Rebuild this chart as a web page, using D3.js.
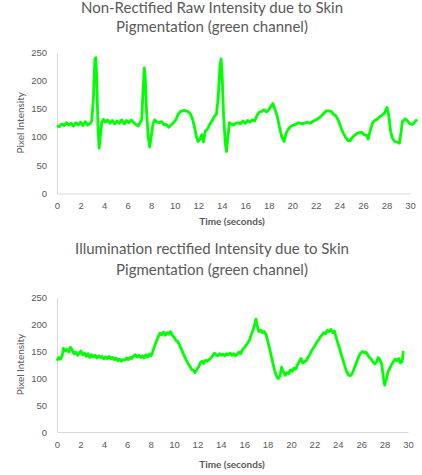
<!DOCTYPE html>
<html>
<head>
<meta charset="utf-8">
<script src="https://cdn.jsdelivr.net/npm/d3@7"></script>
<style>
  body { margin: 0; background: #fff; }
  svg { display: block; font-family: Lato, "Open Sans", sans-serif; }
  .tick text { fill: #595959; font-size: 9.5px; }
  .domain { stroke: #d9d9d9; }
  .title { fill: #595959; font-size: 15px; }
  .axis-title { fill: #595959; font-size: 10px; }
</style>
</head>
<body>
<svg id="chart" width="422" height="475"></svg>
<script>
const xTicks = [0, 2, 4, 6, 8, 10, 12, 14, 16, 18, 20, 22, 24, 26, 28, 30];
const yTicks = [0, 50, 100, 150, 200, 250];

// raw signal (top panel)
const rawTime = [
  0.0, 0.2, 0.4, 0.6, 0.8, 1.0, 1.2, 1.4, 1.6, 1.8, 2.0, 2.2, 2.4, 2.6, 2.8, 2.95,
  3.1, 3.22, 3.3, 3.38, 3.48, 3.58, 3.68, 3.8, 3.95, 4.1, 4.3, 4.5, 4.7, 4.9, 5.1,
  5.3, 5.5, 5.7, 5.9, 6.1, 6.3, 6.5, 6.7, 6.9, 7.05, 7.2, 7.3, 7.42, 7.5, 7.6, 7.75,
  7.88, 8.0, 8.15, 8.3, 8.5, 8.7, 8.9, 9.1, 9.3, 9.5, 9.7, 9.9, 10.1, 10.3, 10.5,
  10.8, 11.1, 11.3, 11.5, 11.7, 11.85, 12.0, 12.15, 12.3, 12.45, 12.6, 12.8, 13.0,
  13.2, 13.4, 13.55, 13.7, 13.85, 13.95, 14.05, 14.15, 14.3, 14.4, 14.5, 14.65, 14.8,
  15.0, 15.2, 15.4, 15.6, 15.8, 16.0, 16.2, 16.4, 16.6, 16.8, 17.0, 17.2, 17.4, 17.6,
  17.8, 18.0, 18.2, 18.35, 18.5, 18.7, 18.9, 19.1, 19.3, 19.5, 19.7, 19.9, 20.1, 20.3,
  20.5, 20.7, 20.9, 21.1, 21.3, 21.5, 21.7, 21.9, 22.1, 22.3, 22.5, 22.7, 22.9, 23.1,
  23.3, 23.5, 23.7, 23.9, 24.1, 24.3, 24.5, 24.7, 24.9, 25.1, 25.3, 25.6, 25.9, 26.1,
  26.3, 26.45, 26.6, 26.8, 27.0, 27.2, 27.4, 27.6, 27.8, 27.95, 28.05, 28.2, 28.35,
  28.5, 28.7, 28.9, 29.1, 29.25, 29.35, 29.6, 29.8, 30.0, 30.2, 30.4, 30.6
];
const rawValue = [
  120, 118, 123, 120, 125, 121, 124, 119, 125, 121, 126, 120, 127, 121, 123, 128,
  170, 238, 240, 200, 120, 80, 100, 125, 131, 126, 130, 124, 129, 123, 128,
  124, 130, 123, 129, 125, 130, 126, 122, 119, 125, 130, 175, 222, 205, 150, 100,
  82, 100, 122, 130, 126, 125, 127, 121, 122, 117, 121, 125, 130, 140, 145,
  147, 145, 142, 133, 116, 100, 92, 96, 104, 91, 110, 114, 123,
  129, 137, 140, 170, 225, 238, 200, 140, 90, 74, 95, 125, 123,
  121, 124, 125, 123, 128, 124, 129, 126, 130, 128, 138, 144, 145, 148,
  144, 148, 155, 159, 150, 138, 118, 100, 92, 108, 115, 119, 121, 122,
  125, 124, 123, 125, 126, 124, 127, 129, 131, 134, 138, 142, 146, 146,
  145, 140, 137, 130, 118, 108, 100, 94, 93, 99, 103, 107, 108, 104,
  103, 96, 110, 124, 129, 131, 135, 138, 141, 148, 152, 137, 110,
  98, 92, 91, 89, 110, 127, 132, 128, 123, 122, 126, 131
];

// illumination rectified signal (bottom panel)
const rectTime = [
  0.0, 0.15, 0.3, 0.45, 0.55, 0.7, 0.85, 1.0, 1.15, 1.3, 1.45, 1.6, 1.75, 1.9, 2.05,
  2.2, 2.35, 2.5, 2.65, 2.8, 2.95, 3.1, 3.25, 3.4, 3.55, 3.7, 3.85, 4.0, 4.15, 4.3,
  4.45, 4.6, 4.75, 4.9, 5.05, 5.2, 5.35, 5.5, 5.65, 5.8, 5.95, 6.1, 6.25, 6.4, 6.55,
  6.7, 6.85, 7.0, 7.15, 7.3, 7.45, 7.6, 7.75, 7.9, 8.05, 8.2, 8.35, 8.5, 8.65, 8.8,
  8.95, 9.1, 9.25, 9.4, 9.55, 9.7, 9.85, 10.0, 10.15, 10.3, 10.45, 10.6, 10.75, 10.9,
  11.05, 11.2, 11.35, 11.5, 11.65, 11.8, 11.95, 12.1, 12.25, 12.4, 12.55, 12.7, 12.85,
  13.0, 13.15, 13.3, 13.45, 13.6, 13.75, 13.9, 14.05, 14.2, 14.35, 14.5, 14.65, 14.8,
  14.95, 15.1, 15.25, 15.4, 15.55, 15.7, 15.85, 16.0, 16.15, 16.3, 16.45, 16.6, 16.75,
  16.9, 17.0, 17.1, 17.25, 17.4, 17.55, 17.7, 17.85, 18.0, 18.15, 18.3, 18.45, 18.6,
  18.75, 18.9, 19.05, 19.2, 19.35, 19.5, 19.65, 19.8, 19.95, 20.1, 20.25, 20.4, 20.55,
  20.7, 20.85, 21.0, 21.15, 21.3, 21.45, 21.6, 21.75, 21.9, 22.05, 22.2, 22.35, 22.5,
  22.65, 22.8, 22.95, 23.1, 23.25, 23.4, 23.55, 23.7, 23.85, 24.0, 24.15, 24.3, 24.45,
  24.6, 24.75, 24.9, 25.05, 25.2, 25.35, 25.5, 25.65, 25.8, 25.95, 26.1, 26.25, 26.4,
  26.55, 26.7, 26.85, 27.0, 27.15, 27.3, 27.45, 27.6, 27.75, 27.9, 28.0, 28.15, 28.3,
  28.45, 28.6, 28.75, 28.9, 29.05, 29.2, 29.35, 29.5, 29.6
];
const rectValue = [
  132, 138, 135, 142, 155, 150, 153, 148, 157, 152, 145, 148, 142, 146, 150,
  143, 146, 140, 145, 138, 143, 139, 142, 137, 141, 138, 140, 135, 139, 136,
  140, 136, 138, 134, 137, 132, 135, 131, 134, 133, 137, 134, 138, 136, 141,
  143, 139, 142, 138, 141, 137, 143, 139, 144, 141, 150, 160, 168, 176, 183,
  180, 185, 179, 184, 181, 186, 179, 176, 170, 168, 162, 155, 147, 140,
  133, 127, 122, 116, 114, 110, 116, 120, 128, 131, 127, 133, 131,
  134, 137, 141, 146, 143, 141, 145, 142, 144, 141, 145, 143, 146,
  142, 145, 141, 144, 148, 145, 152, 156, 160, 165, 170, 180, 188,
  200, 209, 198, 186, 189, 184, 186, 181, 170, 156, 142, 128, 114,
  104, 99, 103, 120, 112, 105, 110, 108, 115, 112, 118, 116, 124,
  130, 136, 128, 130, 132, 138, 143, 150, 155, 160, 166, 170, 176,
  180, 184, 182, 188, 186, 190, 184, 187, 176, 165, 155, 143, 133,
  122, 112, 106, 104, 107, 114, 123, 132, 140, 146, 149, 147, 148,
  143, 138, 135, 130, 126, 129, 138, 134, 126, 100, 87, 98, 112,
  118, 125, 130, 135, 132, 136, 128, 131, 150
];

const svg = d3.select("#chart");

function drawPanel(p) {
  const x = d3.scaleLinear().domain([0, 30]).range([57, p.right]);
  const y = d3.scaleLinear().domain([0, 250]).range([p.bottom, p.top]);

  const g = svg.append("g");

  p.titles.forEach((t, i) => {
    g.append("text")
      .attr("class", "title")
      .attr("x", 212)
      .attr("y", p.titleY[i])
      .attr("text-anchor", "middle")
      .text(t);
  });

  g.append("g")
    .attr("transform", `translate(0, ${p.bottom})`)
    .call(d3.axisBottom(x).tickValues(xTicks).tickSize(0).tickPadding(9))
    .call((a) => a.select(".domain").attr("stroke", "#d9d9d9"));

  g.append("g")
    .attr("transform", "translate(57, 0)")
    .call(d3.axisLeft(y).tickValues(yTicks).tickSize(0).tickPadding(10))
    .call((a) => a.select(".domain").attr("stroke", "#d9d9d9"));

  const pts = p.time.map((t, i) => [t, p.value[i]]);
  g.append("path")
    .datum(pts)
    .attr("fill", "none")
    .attr("stroke", "#00ff00")
    .attr("stroke-width", 2.8)
    .attr("stroke-linejoin", "round")
    .attr("d", d3.line().x((d) => x(d[0])).y((d) => y(d[1])));

  g.append("text")
    .attr("class", "axis-title")
    .attr("x", 232)
    .attr("y", p.xTitleY)
    .attr("text-anchor", "middle")
    .attr("font-size", "10.5px")
    .attr("font-weight", "bold")
    .text("Time (seconds)");

  g.append("text")
    .attr("class", "axis-title")
    .attr("transform", `translate(24, ${(p.top + p.bottom) / 2}) rotate(-90)`)
    .attr("text-anchor", "middle")
    .text("Pixel Intensity");
}

drawPanel({
  titles: ["Non-Rectified Raw Intensity due to Skin", "Pigmentation (green channel)"],
  titleY: [13, 32],
  top: 52, bottom: 193.5, right: 410,
  xTitleY: 225,
  time: rawTime, value: rawValue,
});

drawPanel({
  titles: ["Illumination rectified Intensity due to Skin", "Pigmentation (green channel)"],
  titleY: [254, 275],
  top: 297, bottom: 432, right: 408,
  xTitleY: 468,
  time: rectTime, value: rectValue,
});
</script>
</body>
</html>
